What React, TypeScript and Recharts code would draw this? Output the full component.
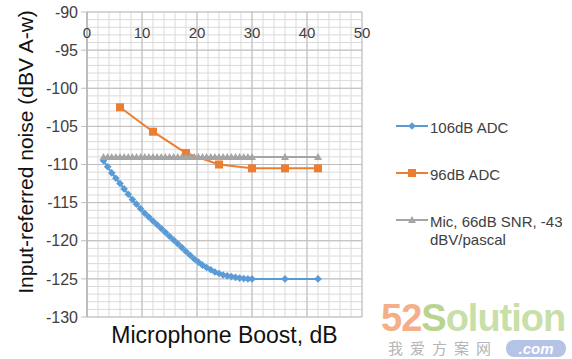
import React from 'react';
import { LineChart, Line, XAxis, YAxis, CartesianGrid, Legend, Label } from 'recharts';

// ---- data ----
const boost106 = [3, 3.75, 4.5, 5.25, 6, 6.75, 7.5, 8.25, 9, 9.75, 10.5, 11.25, 12, 12.75, 13.5, 14.25, 15, 15.75, 16.5, 17.25, 18, 18.75, 19.5, 20.25, 21, 21.75, 22.5, 23.25, 24, 24.75, 25.5, 26.25, 27, 27.75, 28.5, 29.25, 30, 36, 42];
const noise106 = [-109.5, -110.3, -111.1, -111.8, -112.5, -113.2, -113.9, -114.6, -115.2, -115.8, -116.4, -116.9, -117.4, -117.9, -118.4, -118.9, -119.4, -119.9, -120.4, -120.9, -121.4, -121.9, -122.4, -122.8, -123.2, -123.5, -123.8, -124.1, -124.3, -124.5, -124.6, -124.7, -124.8, -124.9, -124.95, -125, -125, -125, -125];
const boostMic = [3, 3.75, 4.5, 5.25, 6, 6.75, 7.5, 8.25, 9, 9.75, 10.5, 11.25, 12, 12.75, 13.5, 14.25, 15, 15.75, 16.5, 17.25, 18, 18.75, 19.5, 20.25, 21, 21.75, 22.5, 23.25, 24, 24.75, 25.5, 26.25, 27, 27.75, 28.5, 29.25, 30, 36, 42];
const noiseMic = [-109, -109, -109, -109, -109, -109, -109, -109, -109, -109, -109, -109, -109, -109, -109, -109, -109, -109, -109, -109, -109, -109, -109, -109, -109, -109, -109, -109, -109, -109, -109, -109, -109, -109, -109, -109, -109, -109, -109];
const boost96 = [6, 12, 18, 24, 30, 36, 42];
const noise96 = [-102.5, -105.7, -108.5, -110, -110.5, -110.5, -110.5];

const xTicks = [0, 10, 20, 30, 40, 50];
const yTicks = [-130, -125, -120, -115, -110, -105, -100, -95, -90];
const xMinorTicks = [0, 2, 4, 6, 8, 10, 12, 14, 16, 18, 20, 22, 24, 26, 28, 30, 32, 34, 36, 38, 40, 42, 44, 46, 48, 50];
const yMinorTicks = [-130, -129, -128, -127, -126, -125, -124, -123, -122, -121, -120, -119, -118, -117, -116, -115, -114, -113, -112, -111, -110, -109, -108, -107, -106, -105, -104, -103, -102, -101, -100, -99, -98, -97, -96, -95, -94, -93, -92, -91, -90];

const seriesNames = ['106dB ADC', '96dB ADC', 'Mic, 66dB SNR, -43 dBV/pascal'];
const xTitle = 'Microphone Boost, dB';
const yTitle = 'Input-referred noise (dBV A-w)';

const data106 = boost106.map((x, i) => ({ x, y: noise106[i] }));
const dataMic = boostMic.map((x, i) => ({ x, y: noiseMic[i] }));
const data96 = boost96.map((x, i) => ({ x, y: noise96[i] }));

const BLUE = '#5B9BD5';
const ORANGE = '#ED7D31';
const GRAY = '#A5A5A5';
const FONT = '"Liberation Sans", Arial, Helvetica, sans-serif';
const TICK_COLOR = '#404040';

const Diamond = (p: any) => {
  const { cx, cy } = p;
  if (cx == null || cy == null) return null;
  return <polygon points={`${cx},${cy - 3.8} ${cx + 3.8},${cy} ${cx},${cy + 3.8} ${cx - 3.8},${cy}`} fill={BLUE} />;
};
const Square = (p: any) => {
  const { cx, cy } = p;
  if (cx == null || cy == null) return null;
  return <rect x={cx - 4} y={cy - 4} width={8} height={8} fill={ORANGE} />;
};
const Triangle = (p: any) => {
  const { cx, cy } = p;
  if (cx == null || cy == null) return null;
  return <polygon points={`${cx},${cy - 4} ${cx + 4},${cy + 3} ${cx - 4},${cy + 3}`} fill={GRAY} />;
};

const XTick = (p: any) => (
  <text x={p.x} y={p.y + 26} textAnchor="middle" fill={TICK_COLOR} fontSize={15} fontFamily={FONT}>
    {p.payload.value}
  </text>
);

const legendIcon = (name: string) => {
  if (name === seriesNames[0]) {
    return (
      <svg width={34} height={14}>
        <line x1={1} y1={7} x2={33} y2={7} stroke={BLUE} strokeWidth={2} />
        <polygon points="17,3.2 20.8,7 17,10.8 13.2,7" fill={BLUE} />
      </svg>
    );
  }
  if (name === seriesNames[1]) {
    return (
      <svg width={34} height={14}>
        <line x1={1} y1={7} x2={33} y2={7} stroke={ORANGE} strokeWidth={2} />
        <rect x={13} y={3} width={8} height={8} fill={ORANGE} />
      </svg>
    );
  }
  return (
    <svg width={34} height={14}>
      <line x1={1} y1={7} x2={33} y2={7} stroke={GRAY} strokeWidth={2} />
      <polygon points="17,3 21,10 13,10" fill={GRAY} />
    </svg>
  );
};

const rowTops = [9, 56, 103];

const LegendContent = (props: any) => {
  const payload = props.payload || [];
  return (
    <div style={{ position: 'relative', width: 177, height: 160, fontFamily: FONT }}>
      {payload.map((entry: any, i: number) => (
        <div key={entry.value} style={{ position: 'absolute', left: 0, top: rowTops[i], width: 177 }}>
          <div style={{ position: 'absolute', left: 0, top: 0 }}>{legendIcon(entry.value)}</div>
          <div style={{ position: 'absolute', left: 35, top: 0, width: 142, fontSize: 15, lineHeight: '18px', color: TICK_COLOR }}>
            {entry.value}
          </div>
        </div>
      ))}
    </div>
  );
};

export default function App() {
  return (
    <div style={{ position: 'absolute', left: 0, top: 0, width: 572, height: 359, background: '#fff', overflow: 'hidden' }}>
      <LineChart width={572} height={359} margin={{ top: 11, right: 210, bottom: 42, left: 0 }}>
        <CartesianGrid stroke="#dadada" strokeWidth={1} verticalValues={xMinorTicks} horizontalValues={yMinorTicks} />
        <CartesianGrid stroke="#bdbdbd" strokeWidth={1} />
        <XAxis
          type="number"
          dataKey="x"
          orientation="top"
          domain={[0, 50]}
          ticks={xTicks}
          height={1}
          tickSize={0}
          tickMargin={0}
          axisLine={false}
          tick={<XTick />}
          interval={0}
          allowDuplicatedCategory={false}
        />
        <YAxis
          type="number"
          domain={[-130, -90]}
          ticks={yTicks}
          width={87}
          interval={0}
          axisLine={{ stroke: '#a6a6a6' }}
          tickLine={{ stroke: '#bdbdbd' }}
          tickSize={6}
          tickMargin={3}
          tick={{ fill: TICK_COLOR, fontSize: 16, fontFamily: FONT }}
        >
          <Label
            content={() => (
              <text transform="translate(33,152) rotate(-90)" textAnchor="middle" fill="#111" fontSize={21} fontFamily={FONT}>
                {yTitle}
              </text>
            )}
          />
        </YAxis>
        <Line data={data106} dataKey="y" name={seriesNames[0]} stroke={BLUE} strokeWidth={2} dot={<Diamond />} activeDot={false} isAnimationActive={false} />
        <Line data={data96} dataKey="y" name={seriesNames[1]} stroke={ORANGE} strokeWidth={2} dot={<Square />} activeDot={false} isAnimationActive={false} />
        <Line data={dataMic} dataKey="y" name={seriesNames[2]} stroke={GRAY} strokeWidth={2} dot={<Triangle />} activeDot={false} isAnimationActive={false} />
        <Legend
          layout="horizontal"
          verticalAlign="middle"
          align="center"
          content={<LegendContent />}
          wrapperStyle={{ position: 'absolute', left: 395, top: 110, width: 177, height: 160 }}
        />
      </LineChart>
      <div style={{ position: 'absolute', left: 87, top: 322, width: 275, textAlign: 'center', fontFamily: FONT, fontSize: 23, lineHeight: '26px', color: '#111' }}>
        {xTitle}
      </div>
      <div style={{ position: 'absolute', left: 381, top: 296, fontFamily: FONT, fontWeight: 'bold', fontSize: 38, lineHeight: '44px', whiteSpace: 'nowrap', letterSpacing: -1 }}>
        <span style={{ color: '#f4ae88' }}>52</span>
        <span style={{ color: '#b9d48f' }}>S</span>
        <span style={{ color: '#c9dfa9' }}>olution</span>
      </div>
      <div style={{ position: 'absolute', left: 388, top: 338, fontFamily: '"Noto Sans CJK SC", sans-serif', fontSize: 15, lineHeight: '20px', letterSpacing: 7, color: '#b5b5b5', whiteSpace: 'nowrap' }}>
        我爱方案网
      </div>
      <div style={{ position: 'absolute', left: 506, top: 340, width: 60, height: 17, borderRadius: 8, background: '#b4c3e6', color: '#fff', fontFamily: FONT, fontWeight: 'bold', fontStyle: 'italic', fontSize: 15, lineHeight: '17px', textAlign: 'center' }}>
        .com
      </div>
    </div>
  );
}
